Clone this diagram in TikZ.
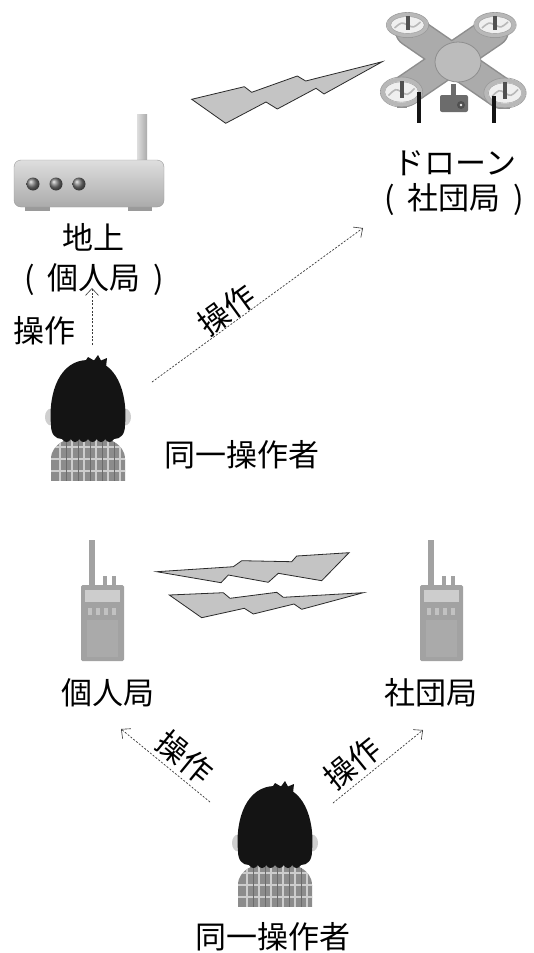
\documentclass[tikz,border=0pt]{standalone}
\usepackage{fontspec}
\newfontfamily\jp{Noto Sans CJK JP}
\usetikzlibrary{arrows.meta}

\definecolor{boltfill}{HTML}{C4C4C4}
\definecolor{boltline}{HTML}{2A2A2A}
\definecolor{boxhi}{HTML}{DEDEDE}
\definecolor{boxlo}{HTML}{ABABAB}
\definecolor{rim}{HTML}{9A9A9A}
\definecolor{knob}{HTML}{7A7A7A}
\definecolor{armgray}{HTML}{ABABAB}
\definecolor{armedge}{HTML}{8E8E8E}
\definecolor{ringgray}{HTML}{B8B8B8}
\definecolor{ringfill}{HTML}{EFEFEF}
\definecolor{motor}{HTML}{505050}
\definecolor{camgray}{HTML}{6C6C6C}
\definecolor{skin}{HTML}{CFCFCF}
\definecolor{shirt}{HTML}{8C8C8C}
\definecolor{check}{HTML}{CDCDCD}
\definecolor{checkdk}{HTML}{6C6C6C}
\definecolor{hair}{HTML}{141414}
\definecolor{radiobody}{HTML}{A2A2A2}
\definecolor{radioscreen}{HTML}{CDCDCD}
\definecolor{radiokey}{HTML}{C2C2C2}
\definecolor{radiopanel}{HTML}{AAAAAA}
\definecolor{opgray}{HTML}{3A3A3A}

\newcommand{\parened}[1]{(\hspace{0.42em}#1\hspace{0.42em})}

\tikzset{
  lbl/.style={inner sep=0pt, text=black},
  opline/.style={draw=opgray, line width=0.7pt, dash pattern=on 2pt off 1.6pt,
    -{Straight Barb[length=7pt,width=13pt,line width=0.6pt]}},
  bolt/.style={fill=boltfill, draw=boltline, line width=0.8pt, line join=miter},
  % propeller ring with its motor
  rotor/.pic={
    \fill[armedge] (-5,-2) rectangle (5,13);
    \draw[draw=ringgray, line width=4pt, fill=ringfill]
      (0,0) ellipse [x radius=19, y radius=10.5];
    \draw[rim, line width=0.6pt] (0,0) ellipse [x radius=21.2, y radius=12.6];
    \draw[rim, line width=0.4pt] (0,0) ellipse [x radius=16.8, y radius=8.4];
    \draw[ringgray, line width=1.6pt] (-13,3) .. controls (-6,-3) .. (0,0)
      .. controls (6,3) .. (13,-3);
    \fill[motor] (-2,-9) rectangle (2,5);
  },
  % handheld transceiver, origin at top-left of its body
  radio/.pic={
    \fill[radiobody] (8,-45) rectangle (14,1);
    \fill[radiobody] (22,-9) rectangle (26,1);
    \fill[radiobody] (31,-9) rectangle (35,1);
    \fill[radiobody, rounded corners=1.5pt] (0,0) rectangle (43,76);
    \fill[radioscreen] (4,5) rectangle (39,17);
    \foreach \k in {7,15,23,31} \fill[radiokey] (\k,23) rectangle (\k+4,30);
    \fill[radiopanel] (6,35) rectangle (37,72);
  },
  % operator seen from behind, origin between the ears
  person/.pic={
    \fill[skin] (-37,0) ellipse [x radius=6, y radius=8.5];
    \fill[skin] (37,0) ellipse [x radius=6, y radius=8.5];
    \begin{scope}
      \clip (-37,64) -- (-37,42) .. controls (-37,27) and (-20,19) .. (0,19)
        .. controls (20,19) and (37,27) .. (37,42) -- (37,64) -- cycle;
      \fill[shirt] (-40,15) rectangle (40,64);
      \foreach \u in {-28,-16,...,32} \draw[check, line width=2.4pt] (\u,15) -- (\u,64);
      \foreach \v in {30,42,54} \draw[check, line width=2.4pt] (-40,\v) -- (40,\v);
      \foreach \u in {-22,-10,...,26} \draw[checkdk, line width=1pt] (\u,15) -- (\u,64);
    \end{scope}
    \fill[hair] (-37,8) .. controls (-40,-25) and (-28,-57) .. (0,-57)
      .. controls (28,-57) and (40,-25) .. (37,8)
      .. controls (37,17) and (33,22) .. (26,22)
      .. controls (24,26) and (19,26) .. (17.3,22)
      .. controls (15.5,26) and (10.5,26) .. (8.7,22)
      .. controls (7,26) and (2,26) .. (0,22)
      .. controls (-2,26) and (-7,26) .. (-8.7,22)
      .. controls (-10.5,26) and (-15.5,26) .. (-17.3,22)
      .. controls (-19,26) and (-24,26) .. (-26,22)
      .. controls (-33,22) and (-37,17) .. (-37,8) -- cycle;
    \fill[hair] (-4,-54) -- (0,-60) -- (6,-56.5) -- (10,-62) -- (13,-56.5)
      -- (19,-59) -- (18,-50) -- cycle;
  }
}

\begin{document}
\begin{tikzpicture}[x=1pt, y=-1pt, font=\jp\fontsize{31}{36}\selectfont]
\useasboundingbox (0,0) rectangle (533,953);
\fill[white] (0,0) rectangle (533,953);

% ---------- ground station (router) ----------
\shade[left color=boxhi, right color=boxlo] (137,114) rectangle (147,163);
\fill[rim] (25,203) rectangle (50,211);
\fill[rim] (128,203) rectangle (152,211);
\shadedraw[top color=boxhi, bottom color=boxlo, draw=rim, rounded corners=7pt]
  (14,160) rectangle (164,207);
\foreach \x in {33,56,79} \shade[ball color=knob] (\x,184) circle[radius=6.5];

% ---------- drone ----------
\draw[armedge, line width=32pt, line cap=round] (411,31) -- (501,93) (493,31) -- (405,91);
\draw[armgray, line width=29pt, line cap=round] (411,31) -- (501,93) (493,31) -- (405,91);
\filldraw[fill=armgray!80!white, draw=armedge, line width=0.8pt]
  (458,62) ellipse [x radius=23, y radius=20];
\pic at (407.5,25) {rotor};
\pic at (495,25) {rotor};
\pic[yscale=1.2] at (401.5,92) {rotor};
\pic[yscale=1.2] at (505,93) {rotor};
\fill[hair] (416.5,92) rectangle (420.5,123);
\fill[hair] (491.5,96) rectangle (495.5,123);
\fill[camgray] (451,84) rectangle (456,97);
\fill[camgray, rounded corners=2pt] (440,95) rectangle (468,112);
\fill[motor] (461,105) circle[radius=4];
\fill[ringfill] (461,105) circle[radius=1.3];

% ---------- radio links ----------
\draw[bolt] (191.7,99.3) -- (244.3,86.7) -- (251.7,92.3) -- (297.3,76) -- (305.7,81)
  -- (382.3,61.7) -- (324,94) -- (316,88.3) -- (277.3,109) -- (266,102)
  -- (225.7,123.3) -- cycle;
\draw[bolt] (156.7,571.7) -- (233.3,566.7) -- (241.7,560.7) -- (291.7,561.7)
  -- (296.7,556) -- (349,552.7) -- (321.7,580.7) -- (278.3,573.3) -- (268.3,582.3)
  -- (228.3,575) -- (221,582.7) -- cycle;
\draw[bolt] (169.3,595) -- (223.3,592.7) -- (230,598.3) -- (276.7,592.3)
  -- (283.3,597.3) -- (363.3,592.7) -- (301.7,609.3) -- (294,604) -- (253.3,614)
  -- (244.3,608.3) -- (201.7,617.7) -- cycle;

% ---------- handheld radios ----------
\pic at (81,585) {radio};
\pic at (420,585) {radio};

% ---------- operators ----------
\pic at (88,417) {person};
\pic at (275,843) {person};

% ---------- labels ----------
\node[lbl] (droneName)  at (455,163) {ドローン};
\node[lbl] (droneRole)  at (454,200) {\parened{社団局}};
\node[lbl] (groundName) at (93,237)  {地上};
\node[lbl] (groundRole) at (94,280)  {\parened{個人局}};
\node[lbl] (operA)      at (242,455) {同一操作者};
\node[lbl] (radioA)     at (108,693) {個人局};
\node[lbl] (radioB)     at (431,693) {社団局};
\node[lbl] (operB)      at (273,937) {同一操作者};

% ---------- operation arrows ----------
\coordinate (upS) at (92,345);
\coordinate (upE) at (92,288);
\draw[opline] (upS) -- (upE);
\node[lbl] (opUp) at (44,331) {操作};

\coordinate (droneS) at (152,382);
\coordinate (droneE) at (363,228);
\draw[opline] (droneS) -- (droneE);
\node[lbl, rotate=36] (opDrone) at (227,310) {操作};

\coordinate (leftS) at (210,802);
\coordinate (leftE) at (121,729);
\draw[opline] (leftS) -- (leftE);
\node[lbl, rotate=-39.4] (opLeft) at (185,757) {操作};

\coordinate (rightS) at (333,803);
\coordinate (rightE) at (423,730);
\draw[opline] (rightS) -- (rightE);
\node[lbl, rotate=39] (opRight) at (352,763) {操作};
\end{tikzpicture}
\end{document}
